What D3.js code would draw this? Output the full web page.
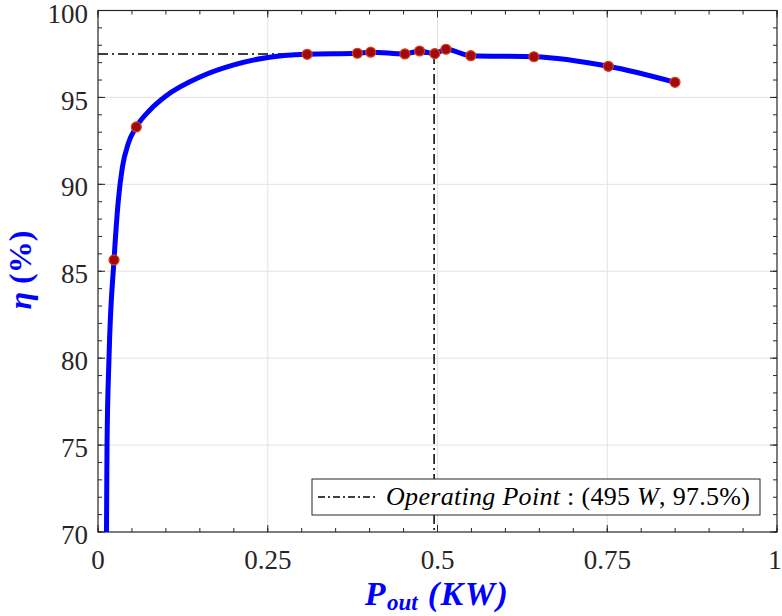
<!DOCTYPE html>
<html>
<head>
<meta charset="utf-8">
<script src="https://cdn.jsdelivr.net/npm/d3@7"></script>
<style>
  body { margin: 0; background: #fff; }
  text { font-family: "Liberation Serif", serif; }
  .tick-label { font-size: 27px; fill: #262626; }
</style>
</head>
<body>
<div id="chart"></div>
<script>
// measured efficiency points (markers)
var markerP   = [0.0236, 0.0564, 0.308, 0.382, 0.4016, 0.452, 0.4736, 0.496, 0.5125, 0.549, 0.642, 0.7516, 0.8498];
var markerEta = [85.65, 93.3, 97.48, 97.54, 97.6, 97.5, 97.67, 97.52, 97.77, 97.4, 97.34, 96.79, 95.87];

// fitted curve
var curveP   = [0.0121, 0.0125, 0.0133, 0.0162, 0.0236, 0.030, 0.036, 0.0447, 0.0564, 0.0766, 0.1, 0.151, 0.2, 0.25, 0.308, 0.382, 0.4016, 0.452, 0.4736, 0.496, 0.5125, 0.549, 0.642, 0.7516, 0.8498];
var curveEta = [68, 70, 75, 80, 85.65, 89.1, 91.0, 92.36, 93.3, 94.28, 95.08, 96.19, 96.87, 97.3, 97.48, 97.54, 97.6, 97.5, 97.67, 97.52, 97.77, 97.4, 97.34, 96.79, 95.87];

var xTicks = [0, 0.25, 0.5, 0.75, 1];
var xTickLabels = ["0", "0.25", "0.5", "0.75", "1"];
var yTicks = [70, 75, 80, 85, 90, 95, 100];

var opP = 0.495, opEta = 97.5;

var W = 782, H = 616;
var margin = {top: 10.5, right: 5, bottom: 84, left: 98},
    width = W - margin.left - margin.right,
    height = H - margin.top - margin.bottom;

var svg = d3.select("#chart").append("svg")
    .attr("width", W)
    .attr("height", H);

var x = d3.scaleLinear().domain([0, 1]).range([0, width]);
var y = d3.scaleLinear().domain([70, 100]).range([height, 0]);

var g = svg.append("g")
    .attr("transform", "translate(" + margin.left + "," + margin.top + ")");

svg.append("defs").append("clipPath")
    .attr("id", "clip")
    .append("rect")
    .attr("width", width)
    .attr("height", height);

// grid
g.selectAll(".xgrid").data(xTicks.slice(1, -1)).enter().append("line")
    .attr("x1", function(d) { return x(d); }).attr("x2", function(d) { return x(d); })
    .attr("y1", 0).attr("y2", height)
    .attr("stroke", "#e3e3e3").attr("stroke-width", 1);
g.selectAll(".ygrid").data(yTicks.slice(1, -1)).enter().append("line")
    .attr("y1", function(d) { return y(d); }).attr("y2", function(d) { return y(d); })
    .attr("x1", 0).attr("x2", width)
    .attr("stroke", "#e3e3e3").attr("stroke-width", 1);

// axes: ticks inward on all four sides
var axisColor = "#262626";
var xMinor = d3.range(0, 1.0001, 0.05);
var yMinor = d3.range(70, 100.001, 1);

function drawTicks(vals, len) {
    vals.forEach(function(v) {
        g.append("line").attr("x1", x(v)).attr("x2", x(v)).attr("y1", height).attr("y2", height - len)
            .attr("stroke", axisColor);
        g.append("line").attr("x1", x(v)).attr("x2", x(v)).attr("y1", 0).attr("y2", len)
            .attr("stroke", axisColor);
    });
}
function drawYTicks(vals, len) {
    vals.forEach(function(v) {
        g.append("line").attr("y1", y(v)).attr("y2", y(v)).attr("x1", 0).attr("x2", len)
            .attr("stroke", axisColor);
        g.append("line").attr("y1", y(v)).attr("y2", y(v)).attr("x1", width).attr("x2", width - len)
            .attr("stroke", axisColor);
    });
}
drawTicks(xMinor, 4);
drawTicks(xTicks, 7);
drawYTicks(yMinor, 4);
drawYTicks(yTicks, 7);

g.append("rect")
    .attr("width", width).attr("height", height)
    .attr("fill", "none").attr("stroke", axisColor).attr("stroke-width", 1.2);

// tick labels
g.selectAll(".xl").data(xTicks).enter().append("text")
    .attr("class", "tick-label")
    .attr("x", function(d) { return Math.min(x(d), width - 2); })
    .attr("y", height + 37)
    .attr("text-anchor", "middle")
    .text(function(d, i) { return xTickLabels[i]; });

g.selectAll(".yl").data(yTicks).enter().append("text")
    .attr("class", "tick-label")
    .attr("x", -10)
    .attr("y", function(d) { return y(d); })
    .attr("dy", "0.45em")
    .attr("text-anchor", "end")
    .text(function(d) { return d; });

// operating point guide lines
var plot = g.append("g").attr("clip-path", "url(#clip)");

plot.append("line")
    .attr("x1", x(0)).attr("x2", x(opP))
    .attr("y1", y(opEta)).attr("y2", y(opEta))
    .attr("stroke", "#000").attr("stroke-width", 1.5)
    .attr("stroke-dasharray", "10,4,2,4");
plot.append("line")
    .attr("x1", x(opP)).attr("x2", x(opP))
    .attr("y1", y(opEta)).attr("y2", y(70))
    .attr("stroke", "#000").attr("stroke-width", 1.5)
    .attr("stroke-dasharray", "10,4,2,4");

// efficiency curve
var curveData = curveP.map(function(p, i) { return {p: p, eta: curveEta[i]}; });
var line = d3.line()
    .x(function(d) { return x(d.p); })
    .y(function(d) { return y(d.eta); })
    .curve(d3.curveMonotoneX);

plot.append("path")
    .datum(curveData)
    .attr("fill", "none")
    .attr("stroke", "#0000ff")
    .attr("stroke-width", 5)
    .attr("stroke-linejoin", "round")
    .attr("d", line);

// markers
var markerData = markerP.map(function(p, i) { return {p: p, eta: markerEta[i]}; });
plot.selectAll(".dot").data(markerData).enter().append("circle")
    .attr("cx", function(d) { return x(d.p); })
    .attr("cy", function(d) { return y(d.eta); })
    .attr("r", 5)
    .attr("fill", "#a00a0a")
    .attr("stroke", "#d8401c")
    .attr("stroke-width", 1.2);

// legend
var lg = svg.append("g").attr("transform", "translate(312,479)");
lg.append("rect")
    .attr("width", 448).attr("height", 36)
    .attr("fill", "#fff").attr("stroke", "#262626").attr("stroke-width", 1);
lg.append("line")
    .attr("x1", 6).attr("x2", 66).attr("y1", 18).attr("y2", 18)
    .attr("stroke", "#000").attr("stroke-width", 1.5)
    .attr("stroke-dasharray", "7,3,2,3");
var lt = lg.append("text")
    .attr("x", 74).attr("y", 26)
    .attr("textLength", 364)
    .attr("lengthAdjust", "spacing")
    .style("font-size", "26px")
    .attr("fill", "#000");
lt.append("tspan").style("font-style", "italic").text("Operating Point");
lt.append("tspan").text(" : (495 ");
lt.append("tspan").style("font-style", "italic").text("W");
lt.append("tspan").text(", 97.5%)");

// axis titles
var xt = svg.append("text")
    .attr("x", 437).attr("y", 605)
    .attr("text-anchor", "middle")
    .style("font-weight", "bold")
    .style("font-style", "italic")
    .style("font-size", "34px")
    .style("letter-spacing", "1.5px")
    .attr("fill", "#0000ff");
xt.append("tspan").text("P");
xt.append("tspan").attr("dy", 5).style("font-size", "23px").style("letter-spacing", "0px").text("out");
xt.append("tspan").attr("dy", -5).text(" (KW)");

svg.append("text")
    .attr("transform", "translate(31,270) rotate(-90)")
    .attr("text-anchor", "middle")
    .style("font-weight", "bold")
    .style("font-size", "32px")
    .attr("fill", "#0000ff")
    .html("<tspan font-style='italic'>η</tspan> (%)");
</script>
</body>
</html>
